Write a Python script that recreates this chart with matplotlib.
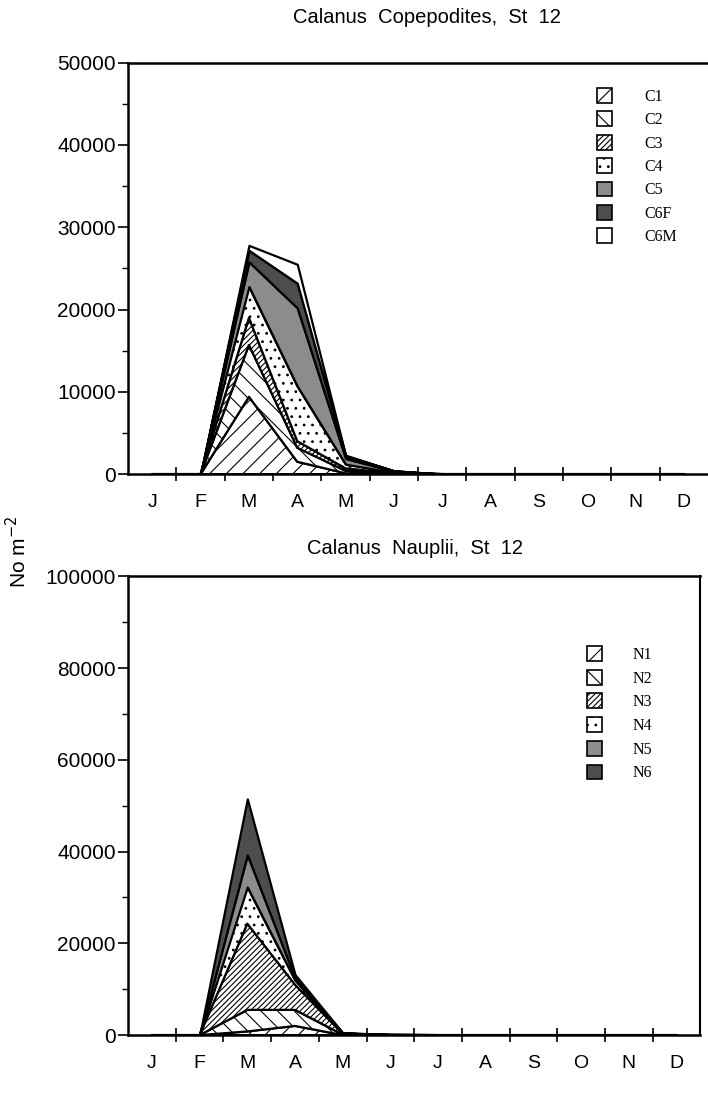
import matplotlib
matplotlib.use("Agg")
import matplotlib.pyplot as plt
import numpy as np
from matplotlib.patches import Patch

plt.rcParams['font.family'] = ['Liberation Sans', 'DejaVu Sans']
plt.rcParams['hatch.linewidth'] = 0.8

months = ['J', 'F', 'M', 'A', 'M', 'J', 'J', 'A', 'S', 'O', 'N', 'D']

# Copepodite stages (No m-2), monthly
cop_labels = ['C1', 'C2', 'C3', 'C4', 'C5', 'C6F', 'C6M']
C1 = [0, 0, 9400, 1500, 100, 0, 0, 0, 0, 0, 0, 0]
C2 = [0, 0, 6300, 1700, 300, 50, 0, 0, 0, 0, 0, 0]
C3 = [0, 0, 3300, 800, 300, 50, 0, 0, 0, 0, 0, 0]
C4 = [0, 0, 3800, 6700, 500, 100, 0, 0, 0, 0, 0, 0]
C5 = [0, 0, 3000, 9500, 700, 150, 0, 0, 0, 0, 0, 0]
C6F = [0, 0, 1400, 3000, 300, 50, 0, 0, 0, 0, 0, 0]
C6M = [0, 0, 600, 2300, 100, 0, 0, 0, 0, 0, 0, 0]

# Nauplii stages (No m-2), monthly
nau_labels = ['N1', 'N2', 'N3', 'N4', 'N5', 'N6']
N1 = [0, 0, 800, 2000, 0, 0, 0, 0, 0, 0, 0, 0]
N2 = [0, 0, 4700, 3500, 100, 0, 0, 0, 0, 0, 0, 0]
N3 = [0, 0, 18800, 5500, 200, 50, 0, 0, 0, 0, 0, 0]
N4 = [0, 0, 8000, 1000, 100, 20, 0, 0, 0, 0, 0, 0]
N5 = [0, 0, 7000, 500, 50, 10, 0, 0, 0, 0, 0, 0]
N6 = [0, 0, 12200, 700, 50, 10, 0, 0, 0, 0, 0, 0]

styles = [
    dict(facecolor='white', hatch='//'),
    dict(facecolor='white', hatch='\\\\'),
    dict(facecolor='white', hatch='//////'),
    dict(facecolor='white', hatch='..'),
    dict(facecolor='0.55', hatch=None),
    dict(facecolor='0.3', hatch=None),
    dict(facecolor='white', hatch=None),
]

fig = plt.figure(figsize=(7.08, 11.0), dpi=100)
ax1 = fig.add_axes([0.181, 0.569, 0.819, 0.374])
ax2 = fig.add_axes([0.181, 0.059, 0.808, 0.417])

x = np.arange(1, 13)


def draw(ax, series, labels, ymax, ystep, right_spine):
    base = np.zeros(12)
    handles = []
    for s, lab, st in zip(series, labels, styles):
        top = base + np.array(s, dtype=float)
        ax.fill_between(x, base, top, facecolor=st['facecolor'], hatch=st['hatch'],
                        edgecolor='black', linewidth=1.6, zorder=2)
        handles.append(Patch(facecolor=st['facecolor'], hatch=st['hatch'],
                             edgecolor='black', linewidth=1.2, label=lab))
        base = top
    ax.set_xlim(0.5, 12.5)
    ax.set_ylim(0, ymax)
    ax.set_xticks(x)
    ax.set_xticklabels(months, fontsize=14)
    ax.set_xticks(np.arange(1.5, 12.5, 1), minor=True)
    ax.tick_params(axis='x', which='major', length=0, pad=14)
    ax.tick_params(axis='x', which='minor', direction='inout', length=10, width=1.2)
    ax.set_yticks(np.arange(0, ymax + 1, ystep))
    ax.set_yticklabels([str(int(v)) for v in np.arange(0, ymax + 1, ystep)], fontsize=15)
    ax.set_yticks(np.arange(ystep / 2, ymax, ystep), minor=True)
    ax.tick_params(axis='y', which='major', direction='out', length=7, width=1.2, pad=2)
    ax.tick_params(axis='y', which='minor', direction='out', length=4, width=1.0)
    for sp in ['left', 'top', 'bottom']:
        ax.spines[sp].set_linewidth(1.8)
    ax.spines['right'].set_visible(right_spine)
    ax.spines['right'].set_linewidth(1.5)
    return handles


h1 = draw(ax1, [C1, C2, C3, C4, C5, C6F, C6M], cop_labels, 50000, 10000, False)
h2 = draw(ax2, [N1, N2, N3, N4, N5, N6], nau_labels, 100000, 20000, True)

fig.text(0.603, 0.984, 'Calanus  Copepodites,  St  12', fontsize=14.5,
         ha='center', va='center')
fig.text(0.586, 0.501, 'Calanus  Nauplii,  St  12', fontsize=14.5,
         ha='center', va='center')

leg_font = dict(family=['Liberation Serif', 'DejaVu Serif'], size=11.5)
ax1.legend(handles=h1, loc='upper left', bbox_to_anchor=(597 / 708, 1 - 88 / 1100),
           bbox_transform=fig.transFigure, frameon=False, borderpad=0, borderaxespad=0,
           prop=leg_font, handlelength=0.95, handleheight=1.05, labelspacing=0.41,
           handletextpad=2.0)
ax2.legend(handles=h2, loc='upper left', bbox_to_anchor=(587 / 708, 1 - 646 / 1100),
           bbox_transform=fig.transFigure, frameon=False, borderpad=0, borderaxespad=0,
           prop=leg_font, handlelength=0.95, handleheight=1.05, labelspacing=0.43,
           handletextpad=1.9)

fig.text(0.025, 0.498, 'No m$^{-2}$', rotation=90, fontsize=15, ha='center', va='center')

fig.savefig('out.png', dpi=100)
